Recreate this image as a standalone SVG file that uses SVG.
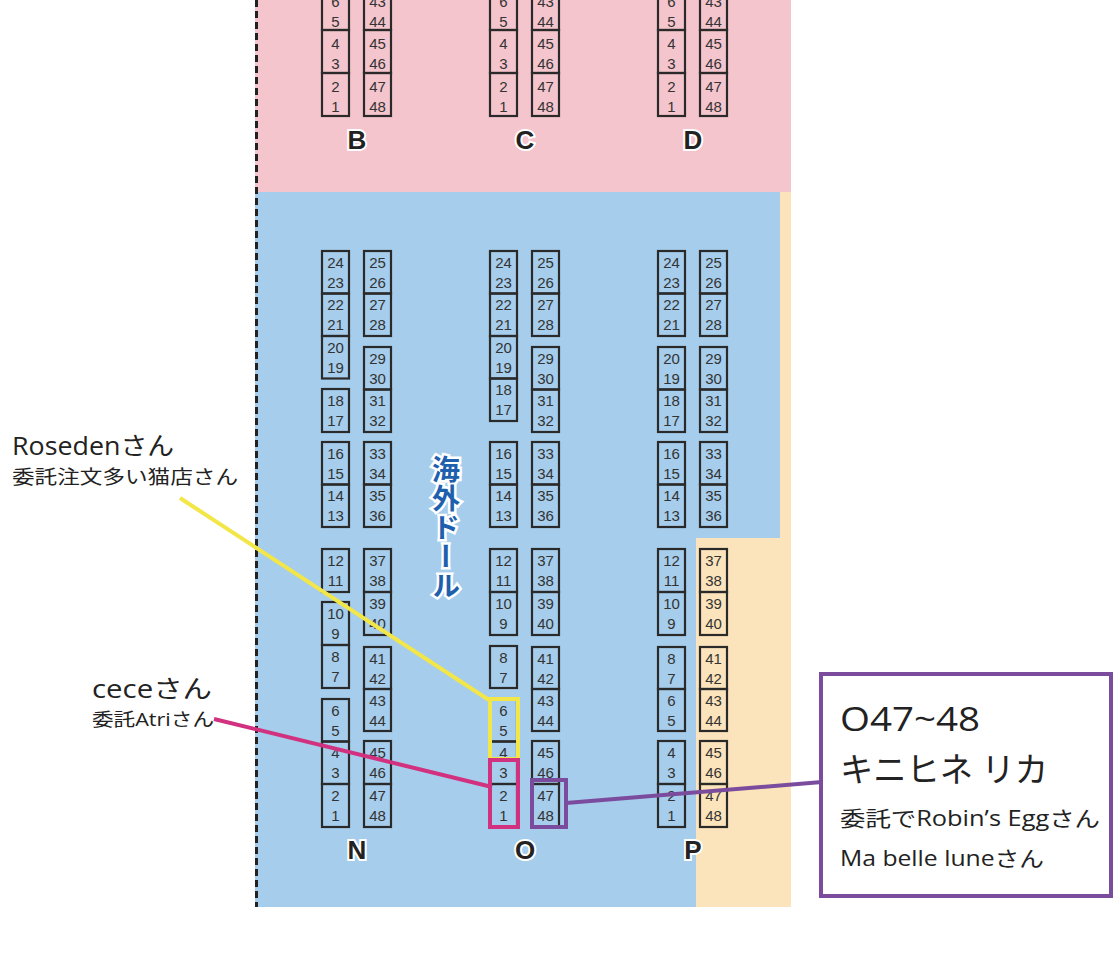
<svg xmlns="http://www.w3.org/2000/svg" width="1114" height="969" viewBox="0 0 1114 969">
<style>
.c rect{fill:none;stroke:#2a2a2a;stroke-width:2.2}
.c text{font-family:"Liberation Sans Narrow","Liberation Sans",Arial,sans-serif;font-size:15px;fill:#333;text-anchor:middle}
.lb{font-family:"Liberation Sans",Arial,sans-serif;font-weight:bold;font-size:26px;fill:#222;text-anchor:middle;stroke:#fff;stroke-width:4;paint-order:stroke}
.t{font-family:"Open Sans","Noto Sans CJK JP",sans-serif;fill:#222}
</style>
<g id="background">
<rect x="255" y="0" width="536" height="192" fill="#f4c5cd"/>
<rect x="255" y="192" width="536" height="715" fill="#fbe4bb"/>
<rect x="255" y="192" width="525" height="346" fill="#a6cdeb"/>
<rect x="255" y="538" width="441" height="369" fill="#a6cdeb"/>
<line x1="256.5" y1="0" x2="256.5" y2="907" stroke="#222" stroke-width="3" stroke-dasharray="7,4"/>
</g>
<g id="blocks" class="c">
<g id="B" transform="translate(322,0)">
<rect y="-12" width="27" height="42"/><rect y="30" width="27" height="43"/><rect y="73" width="27" height="43"/>
<text x="13.5" y="7">6</text><text x="13.5" y="27">5</text><text x="13.5" y="49">4</text><text x="13.5" y="69">3</text><text x="13.5" y="92">2</text><text x="13.5" y="112">1</text>
<rect x="42" y="-12" width="27" height="42"/><rect x="42" y="30" width="27" height="43"/><rect x="42" y="73" width="27" height="43"/>
<text x="55.5" y="7">43</text><text x="55.5" y="27">44</text><text x="55.5" y="49">45</text><text x="55.5" y="69">46</text><text x="55.5" y="92">47</text><text x="55.5" y="112">48</text>
</g>
<g id="C" transform="translate(490,0)">
<rect y="-12" width="27" height="42"/><rect y="30" width="27" height="43"/><rect y="73" width="27" height="43"/>
<text x="13.5" y="7">6</text><text x="13.5" y="27">5</text><text x="13.5" y="49">4</text><text x="13.5" y="69">3</text><text x="13.5" y="92">2</text><text x="13.5" y="112">1</text>
<rect x="42" y="-12" width="27" height="42"/><rect x="42" y="30" width="27" height="43"/><rect x="42" y="73" width="27" height="43"/>
<text x="55.5" y="7">43</text><text x="55.5" y="27">44</text><text x="55.5" y="49">45</text><text x="55.5" y="69">46</text><text x="55.5" y="92">47</text><text x="55.5" y="112">48</text>
</g>
<g id="D" transform="translate(658,0)">
<rect y="-12" width="27" height="42"/><rect y="30" width="27" height="43"/><rect y="73" width="27" height="43"/>
<text x="13.5" y="7">6</text><text x="13.5" y="27">5</text><text x="13.5" y="49">4</text><text x="13.5" y="69">3</text><text x="13.5" y="92">2</text><text x="13.5" y="112">1</text>
<rect x="42" y="-12" width="27" height="42"/><rect x="42" y="30" width="27" height="43"/><rect x="42" y="73" width="27" height="43"/>
<text x="55.5" y="7">43</text><text x="55.5" y="27">44</text><text x="55.5" y="49">45</text><text x="55.5" y="69">46</text><text x="55.5" y="92">47</text><text x="55.5" y="112">48</text>
</g>
<g id="N" transform="translate(322,0)">
<rect y="251" width="27" height="42.5"/><text x="13.5" y="268">24</text><text x="13.5" y="288">23</text>
<rect y="293.5" width="27" height="42.5"/><text x="13.5" y="310">22</text><text x="13.5" y="330">21</text>
<rect y="336" width="27" height="42.5"/><text x="13.5" y="353">20</text><text x="13.5" y="373">19</text>
<rect y="389" width="27" height="43"/><text x="13.5" y="406">18</text><text x="13.5" y="426">17</text>
<rect y="442" width="27" height="42.5"/><text x="13.5" y="459">16</text><text x="13.5" y="479">15</text>
<rect y="484.5" width="27" height="42.5"/><text x="13.5" y="501">14</text><text x="13.5" y="521">13</text>
<rect y="549" width="27" height="43"/><text x="13.5" y="566">12</text><text x="13.5" y="586">11</text>
<rect y="602" width="27" height="43"/><text x="13.5" y="619">10</text><text x="13.5" y="639">9</text>
<rect y="645" width="27" height="43"/><text x="13.5" y="662">8</text><text x="13.5" y="682">7</text>
<rect y="699" width="27" height="42.5"/><text x="13.5" y="716">6</text><text x="13.5" y="736">5</text>
<rect y="741.5" width="27" height="42.5"/><text x="13.5" y="758">4</text><text x="13.5" y="778">3</text>
<rect y="784" width="27" height="43"/><text x="13.5" y="801">2</text><text x="13.5" y="821">1</text>
<g transform="translate(42,0)">
<rect y="251" width="27" height="42.5"/><text x="13.5" y="268">25</text><text x="13.5" y="288">26</text>
<rect y="293.5" width="27" height="42.5"/><text x="13.5" y="310">27</text><text x="13.5" y="330">28</text>
<rect y="347" width="27" height="42.5"/><text x="13.5" y="364">29</text><text x="13.5" y="384">30</text>
<rect y="389.5" width="27" height="42.5"/><text x="13.5" y="406">31</text><text x="13.5" y="426">32</text>
<rect y="442" width="27" height="42.5"/><text x="13.5" y="459">33</text><text x="13.5" y="479">34</text>
<rect y="484.5" width="27" height="42.5"/><text x="13.5" y="501">35</text><text x="13.5" y="521">36</text>
<rect y="549" width="27" height="43"/><text x="13.5" y="566">37</text><text x="13.5" y="586">38</text>
<rect y="592" width="27" height="43"/><text x="13.5" y="609">39</text><text x="13.5" y="629">40</text>
<rect y="647" width="27" height="42"/><text x="13.5" y="664">41</text><text x="13.5" y="684">42</text>
<rect y="689" width="27" height="42"/><text x="13.5" y="706">43</text><text x="13.5" y="726">44</text>
<rect y="741" width="27" height="43"/><text x="13.5" y="758">45</text><text x="13.5" y="778">46</text>
<rect y="784" width="27" height="43"/><text x="13.5" y="801">47</text><text x="13.5" y="821">48</text>
</g>
</g>
<g id="O" transform="translate(490,0)">
<rect y="251" width="27" height="42.5"/><text x="13.5" y="268">24</text><text x="13.5" y="288">23</text>
<rect y="293.5" width="27" height="42.5"/><text x="13.5" y="310">22</text><text x="13.5" y="330">21</text>
<rect y="336" width="27" height="42.5"/><text x="13.5" y="353">20</text><text x="13.5" y="373">19</text>
<rect y="378.5" width="27" height="42.5"/><text x="13.5" y="395">18</text><text x="13.5" y="415">17</text>
<rect y="442" width="27" height="42.5"/><text x="13.5" y="459">16</text><text x="13.5" y="479">15</text>
<rect y="484.5" width="27" height="42.5"/><text x="13.5" y="501">14</text><text x="13.5" y="521">13</text>
<rect y="549" width="27" height="43"/><text x="13.5" y="566">12</text><text x="13.5" y="586">11</text>
<rect y="592" width="27" height="43"/><text x="13.5" y="609">10</text><text x="13.5" y="629">9</text>
<rect y="646" width="27" height="42"/><text x="13.5" y="663">8</text><text x="13.5" y="683">7</text>
<rect y="699" width="27" height="42.5"/><text x="13.5" y="716">6</text><text x="13.5" y="736">5</text>
<rect y="741.5" width="27" height="42.5"/><text x="13.5" y="758">4</text><text x="13.5" y="778">3</text>
<rect y="784" width="27" height="43"/><text x="13.5" y="801">2</text><text x="13.5" y="821">1</text>
<g transform="translate(42,0)">
<rect y="251" width="27" height="42.5"/><text x="13.5" y="268">25</text><text x="13.5" y="288">26</text>
<rect y="293.5" width="27" height="42.5"/><text x="13.5" y="310">27</text><text x="13.5" y="330">28</text>
<rect y="347" width="27" height="42.5"/><text x="13.5" y="364">29</text><text x="13.5" y="384">30</text>
<rect y="389.5" width="27" height="42.5"/><text x="13.5" y="406">31</text><text x="13.5" y="426">32</text>
<rect y="442" width="27" height="42.5"/><text x="13.5" y="459">33</text><text x="13.5" y="479">34</text>
<rect y="484.5" width="27" height="42.5"/><text x="13.5" y="501">35</text><text x="13.5" y="521">36</text>
<rect y="549" width="27" height="43"/><text x="13.5" y="566">37</text><text x="13.5" y="586">38</text>
<rect y="592" width="27" height="43"/><text x="13.5" y="609">39</text><text x="13.5" y="629">40</text>
<rect y="647" width="27" height="42"/><text x="13.5" y="664">41</text><text x="13.5" y="684">42</text>
<rect y="689" width="27" height="42"/><text x="13.5" y="706">43</text><text x="13.5" y="726">44</text>
<rect y="741" width="27" height="43"/><text x="13.5" y="758">45</text><text x="13.5" y="778">46</text>
<rect y="784" width="27" height="43"/><text x="13.5" y="801">47</text><text x="13.5" y="821">48</text>
</g>
</g>
<g id="P" transform="translate(658,0)">
<rect y="251" width="27" height="42.5"/><text x="13.5" y="268">24</text><text x="13.5" y="288">23</text>
<rect y="293.5" width="27" height="42.5"/><text x="13.5" y="310">22</text><text x="13.5" y="330">21</text>
<rect y="347" width="27" height="42.5"/><text x="13.5" y="364">20</text><text x="13.5" y="384">19</text>
<rect y="389.5" width="27" height="42.5"/><text x="13.5" y="406">18</text><text x="13.5" y="426">17</text>
<rect y="442" width="27" height="42.5"/><text x="13.5" y="459">16</text><text x="13.5" y="479">15</text>
<rect y="484.5" width="27" height="42.5"/><text x="13.5" y="501">14</text><text x="13.5" y="521">13</text>
<rect y="549" width="27" height="43"/><text x="13.5" y="566">12</text><text x="13.5" y="586">11</text>
<rect y="592" width="27" height="43"/><text x="13.5" y="609">10</text><text x="13.5" y="629">9</text>
<rect y="647" width="27" height="42"/><text x="13.5" y="664">8</text><text x="13.5" y="684">7</text>
<rect y="689" width="27" height="42"/><text x="13.5" y="706">6</text><text x="13.5" y="726">5</text>
<rect y="741" width="27" height="43"/><text x="13.5" y="758">4</text><text x="13.5" y="778">3</text>
<rect y="784" width="27" height="43"/><text x="13.5" y="801">2</text><text x="13.5" y="821">1</text>
<g transform="translate(42,0)">
<rect y="251" width="27" height="42.5"/><text x="13.5" y="268">25</text><text x="13.5" y="288">26</text>
<rect y="293.5" width="27" height="42.5"/><text x="13.5" y="310">27</text><text x="13.5" y="330">28</text>
<rect y="347" width="27" height="42.5"/><text x="13.5" y="364">29</text><text x="13.5" y="384">30</text>
<rect y="389.5" width="27" height="42.5"/><text x="13.5" y="406">31</text><text x="13.5" y="426">32</text>
<rect y="442" width="27" height="42.5"/><text x="13.5" y="459">33</text><text x="13.5" y="479">34</text>
<rect y="484.5" width="27" height="42.5"/><text x="13.5" y="501">35</text><text x="13.5" y="521">36</text>
<rect y="549" width="27" height="43"/><text x="13.5" y="566">37</text><text x="13.5" y="586">38</text>
<rect y="592" width="27" height="43"/><text x="13.5" y="609">39</text><text x="13.5" y="629">40</text>
<rect y="647" width="27" height="42"/><text x="13.5" y="664">41</text><text x="13.5" y="684">42</text>
<rect y="689" width="27" height="42"/><text x="13.5" y="706">43</text><text x="13.5" y="726">44</text>
<rect y="741" width="27" height="43"/><text x="13.5" y="758">45</text><text x="13.5" y="778">46</text>
<rect y="784" width="27" height="43"/><text x="13.5" y="801">47</text><text x="13.5" y="821">48</text>
</g>
</g>
</g>
<g id="labels">
<text class="lb" x="357" y="149">B</text>
<text class="lb" x="525" y="149">C</text>
<text class="lb" x="693" y="149">D</text>
<text class="lb" x="357" y="859">N</text>
<text class="lb" x="525" y="859">O</text>
<text class="lb" x="693" y="859">P</text>
<text x="446" y="455" style="writing-mode:vertical-rl;font-family:'Noto Sans CJK JP',sans-serif;font-weight:bold;font-size:28px;fill:#1e5fae;stroke:#fff;stroke-width:5;paint-order:stroke;letter-spacing:1px">海外ドール</text>
</g>
<g id="connectors" fill="none" stroke-width="4">
<line x1="180" y1="498" x2="492" y2="702" stroke="#f2e648"/>
<rect x="490" y="699" width="28" height="60" stroke="#f2e648"/>
<line x1="214" y1="719" x2="492" y2="787" stroke="#d2317f"/>
<rect x="490" y="760" width="28" height="67" stroke="#d2317f"/>
<line x1="566" y1="803" x2="822" y2="782" stroke="#7b4c9e"/>
<rect x="532" y="780" width="34" height="47" stroke="#7b4c9e"/>
</g>
<g id="roseden">
<text class="t" x="12" y="455" font-size="25" textLength="162" lengthAdjust="spacingAndGlyphs">Rosedenさん</text>
<text class="t" x="12" y="484" font-size="19" textLength="226" lengthAdjust="spacingAndGlyphs">委託注文多い猫店さん</text>
</g>
<g id="cece">
<text class="t" x="92" y="698" font-size="25" textLength="120" lengthAdjust="spacingAndGlyphs">ceceさん</text>
<text class="t" x="92" y="726" font-size="18" textLength="122" lengthAdjust="spacingAndGlyphs">委託Atriさん</text>
</g>
<g id="infobox">
<rect x="821" y="674" width="290" height="222" fill="#fff" stroke="#7b4c9e" stroke-width="4"/>
<text class="t" x="840" y="731" font-size="32" textLength="140" lengthAdjust="spacingAndGlyphs">O47~48</text>
<text class="t" x="840" y="782" font-size="34" textLength="208" lengthAdjust="spacingAndGlyphs">キニヒネ リカ</text>
<text class="t" x="840" y="826" font-size="21" textLength="260" lengthAdjust="spacingAndGlyphs">委託でRobin’s Eggさん</text>
<text class="t" x="840" y="866" font-size="21" textLength="204" lengthAdjust="spacingAndGlyphs">Ma belle luneさん</text>
</g>
</svg>
